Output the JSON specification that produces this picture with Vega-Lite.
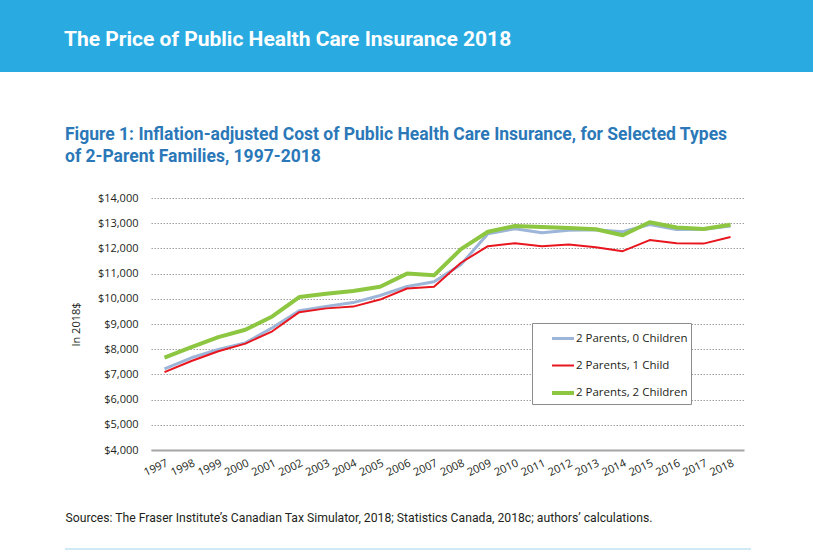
{
  "$schema": "https://vega.github.io/schema/vega-lite/v6.json",
  "padding": 0,
  "background": "white",
  "spacing": 24,
  "config": {"view": {"stroke": null}},
  "vconcat": [
    {
      "width": 813,
      "height": 72,
      "view": {"fill": "#29abe2", "stroke": null},
      "data": {"values": []},
      "mark": "rect",
      "title": {
        "text": "The Price of Public Health Care Insurance 2018",
        "anchor": "start",
        "frame": "group",
        "orient": "top",
        "offset": -67,
        "dx": 64,
        "baseline": "alphabetic",
        "font": "Roboto",
        "fontSize": 21,
        "fontWeight": "bold",
        "color": "#ffffff"
      }
    },
    {
      "spacing": 64,
      "hconcat": [
        {
          "width": 1,
          "height": 1,
          "data": {"values": []},
          "mark": "rect"
        },
        {
          "width": 593,
          "height": 252,
          "title": {
            "text": " ",
            "fontSize": 10,
            "lineHeight": 10,
            "subtitle": ["Figure 1: Inflation-adjusted Cost of Public Health Care Insurance, for Selected Types", "of 2-Parent Families, 1997-2018"],
            "subtitleFont": "Roboto",
            "subtitleFontSize": 17.5,
            "subtitleFontWeight": "bold",
            "subtitleColor": "#2b78b8",
            "subtitleLineHeight": 22,
            "subtitlePadding": 19,
            "anchor": "start",
            "frame": "bounds",
            "offset": 27
          },
          "data": {
            "values": [
              {"year": "1997", "family": "2 Parents, 0 Children", "cost": 7220},
              {"year": "1998", "family": "2 Parents, 0 Children", "cost": 7660},
              {"year": "1999", "family": "2 Parents, 0 Children", "cost": 7990},
              {"year": "2000", "family": "2 Parents, 0 Children", "cost": 8250},
              {"year": "2001", "family": "2 Parents, 0 Children", "cost": 8850},
              {"year": "2002", "family": "2 Parents, 0 Children", "cost": 9530},
              {"year": "2003", "family": "2 Parents, 0 Children", "cost": 9700},
              {"year": "2004", "family": "2 Parents, 0 Children", "cost": 9850},
              {"year": "2005", "family": "2 Parents, 0 Children", "cost": 10130},
              {"year": "2006", "family": "2 Parents, 0 Children", "cost": 10490},
              {"year": "2007", "family": "2 Parents, 0 Children", "cost": 10680},
              {"year": "2008", "family": "2 Parents, 0 Children", "cost": 11360},
              {"year": "2009", "family": "2 Parents, 0 Children", "cost": 12580},
              {"year": "2010", "family": "2 Parents, 0 Children", "cost": 12780},
              {"year": "2011", "family": "2 Parents, 0 Children", "cost": 12620},
              {"year": "2012", "family": "2 Parents, 0 Children", "cost": 12720},
              {"year": "2013", "family": "2 Parents, 0 Children", "cost": 12740},
              {"year": "2014", "family": "2 Parents, 0 Children", "cost": 12660},
              {"year": "2015", "family": "2 Parents, 0 Children", "cost": 12950},
              {"year": "2016", "family": "2 Parents, 0 Children", "cost": 12750},
              {"year": "2017", "family": "2 Parents, 0 Children", "cost": 12760},
              {"year": "2018", "family": "2 Parents, 0 Children", "cost": 12890},
              {"year": "1997", "family": "2 Parents, 1 Child", "cost": 7090},
              {"year": "1998", "family": "2 Parents, 1 Child", "cost": 7530},
              {"year": "1999", "family": "2 Parents, 1 Child", "cost": 7920},
              {"year": "2000", "family": "2 Parents, 1 Child", "cost": 8220},
              {"year": "2001", "family": "2 Parents, 1 Child", "cost": 8710},
              {"year": "2002", "family": "2 Parents, 1 Child", "cost": 9470},
              {"year": "2003", "family": "2 Parents, 1 Child", "cost": 9620},
              {"year": "2004", "family": "2 Parents, 1 Child", "cost": 9690},
              {"year": "2005", "family": "2 Parents, 1 Child", "cost": 9970},
              {"year": "2006", "family": "2 Parents, 1 Child", "cost": 10410},
              {"year": "2007", "family": "2 Parents, 1 Child", "cost": 10480},
              {"year": "2008", "family": "2 Parents, 1 Child", "cost": 11430},
              {"year": "2009", "family": "2 Parents, 1 Child", "cost": 12090},
              {"year": "2010", "family": "2 Parents, 1 Child", "cost": 12200},
              {"year": "2011", "family": "2 Parents, 1 Child", "cost": 12090},
              {"year": "2012", "family": "2 Parents, 1 Child", "cost": 12150},
              {"year": "2013", "family": "2 Parents, 1 Child", "cost": 12050},
              {"year": "2014", "family": "2 Parents, 1 Child", "cost": 11890},
              {"year": "2015", "family": "2 Parents, 1 Child", "cost": 12330},
              {"year": "2016", "family": "2 Parents, 1 Child", "cost": 12200},
              {"year": "2017", "family": "2 Parents, 1 Child", "cost": 12190},
              {"year": "2018", "family": "2 Parents, 1 Child", "cost": 12450},
              {"year": "1997", "family": "2 Parents, 2 Children", "cost": 7670},
              {"year": "1998", "family": "2 Parents, 2 Children", "cost": 8080},
              {"year": "1999", "family": "2 Parents, 2 Children", "cost": 8480},
              {"year": "2000", "family": "2 Parents, 2 Children", "cost": 8770},
              {"year": "2001", "family": "2 Parents, 2 Children", "cost": 9300},
              {"year": "2002", "family": "2 Parents, 2 Children", "cost": 10070},
              {"year": "2003", "family": "2 Parents, 2 Children", "cost": 10200},
              {"year": "2004", "family": "2 Parents, 2 Children", "cost": 10310},
              {"year": "2005", "family": "2 Parents, 2 Children", "cost": 10480},
              {"year": "2006", "family": "2 Parents, 2 Children", "cost": 11000},
              {"year": "2007", "family": "2 Parents, 2 Children", "cost": 10930},
              {"year": "2008", "family": "2 Parents, 2 Children", "cost": 11970},
              {"year": "2009", "family": "2 Parents, 2 Children", "cost": 12660},
              {"year": "2010", "family": "2 Parents, 2 Children", "cost": 12890},
              {"year": "2011", "family": "2 Parents, 2 Children", "cost": 12850},
              {"year": "2012", "family": "2 Parents, 2 Children", "cost": 12810},
              {"year": "2013", "family": "2 Parents, 2 Children", "cost": 12760},
              {"year": "2014", "family": "2 Parents, 2 Children", "cost": 12520},
              {"year": "2015", "family": "2 Parents, 2 Children", "cost": 13040},
              {"year": "2016", "family": "2 Parents, 2 Children", "cost": 12830},
              {"year": "2017", "family": "2 Parents, 2 Children", "cost": 12770},
              {"year": "2018", "family": "2 Parents, 2 Children", "cost": 12940}
            ]
          },
          "mark": {"type": "line", "strokeJoin": "round", "strokeCap": "butt"},
          "encoding": {
            "x": {
              "field": "year",
              "type": "ordinal",
              "scale": {"padding": 0.5},
              "axis": {
                "title": "Sources: The Fraser Institute’s Canadian Tax Simulator, 2018; Statistics Canada, 2018c; authors’ calculations.",
                "titleFont": "Roboto",
                "titleFontSize": 12.2,
                "titleFontWeight": "normal",
                "titleColor": "#231f20",
                "titleAnchor": "start",
                "titleAlign": "left",
                "titleBaseline": "alphabetic",
                "titleX": -86,
                "titleY": 71,
                "labelAngle": -25,
                "labelAlign": "right",
                "labelBaseline": "top",
                "labelPadding": 7,
                "labelFont": "Open Sans",
                "labelFontSize": 11,
                "labelColor": "#231f20",
                "ticks": false,
                "grid": false,
                "domainColor": "#a6a6a6",
                "domainWidth": 2
              }
            },
            "y": {
              "field": "cost",
              "type": "quantitative",
              "scale": {"domain": [4000, 14000], "nice": false, "zero": false},
              "axis": {
                "title": "In 2018$",
                "titleFont": "Open Sans",
                "titleFontSize": 11,
                "titleFontWeight": "normal",
                "titleColor": "#231f20",
                "titlePadding": 16,
                "values": [4000, 5000, 6000, 7000, 8000, 9000, 10000, 11000, 12000, 13000, 14000],
                "format": "$,d",
                "labelFont": "Open Sans",
                "labelFontSize": 11,
                "labelColor": "#231f20",
                "labelPadding": 13,
                "domain": false,
                "ticks": false,
                "gridColor": "#a0a0a0",
                "gridDash": [1.5, 1.5],
                "gridWidth": 1
              }
            },
            "color": {
              "field": "family",
              "type": "nominal",
              "scale": {
                "domain": ["2 Parents, 0 Children", "2 Parents, 1 Child", "2 Parents, 2 Children"],
                "range": ["#9cb5d8", "#e8161e", "#8dc641"]
              },
              "legend": {
                "title": null,
                "orient": "none",
                "legendX": 532,
                "legendY": 323,
                "strokeColor": "#8c8c8c",
                "fillColor": "#ffffff",
                "padding": 3,
                "symbolType": "stroke",
                "symbolSize": 484,
                "symbolOffset": 15,
                "labelFont": "Open Sans",
                "labelFontSize": 11.5,
                "labelColor": "#231f20",
                "labelOffset": 0,
                "rowPadding": 8.5
              }
            },
            "strokeWidth": {
              "field": "family",
              "type": "nominal",
              "scale": {
                "type": "ordinal",
                "domain": ["2 Parents, 0 Children", "2 Parents, 1 Child", "2 Parents, 2 Children"],
                "range": [3, 2, 4]
              },
              "legend": {
                "title": null,
                "orient": "none",
                "legendX": 532,
                "legendY": 323,
                "strokeColor": "#8c8c8c",
                "fillColor": "#ffffff",
                "padding": 3,
                "symbolType": "stroke",
                "symbolSize": 484,
                "symbolOffset": 15,
                "labelFont": "Open Sans",
                "labelFontSize": 11.5,
                "labelColor": "#231f20",
                "labelOffset": 0,
                "rowPadding": 8.5
              }
            }
          }
        }
      ]
    },
    {
      "spacing": 64,
      "hconcat": [
        {
          "width": 1,
          "height": 1,
          "data": {"values": []},
          "mark": "rect"
        },
        {
          "width": 686,
          "height": 2,
          "view": {"fill": "#cdeaf6", "stroke": null},
          "data": {"values": []},
          "mark": "rect"
        }
      ]
    }
  ]
}
